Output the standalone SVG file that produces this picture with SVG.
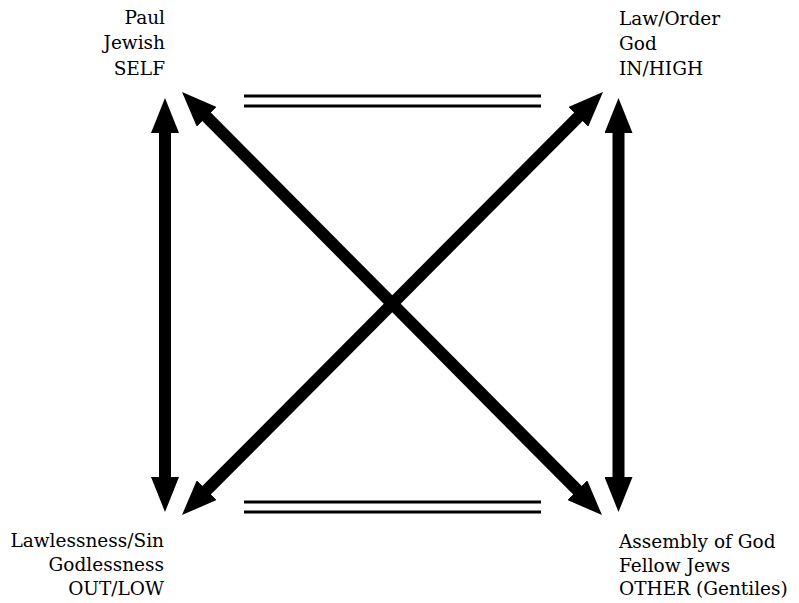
<svg xmlns="http://www.w3.org/2000/svg" width="799" height="603" viewBox="0 0 799 603">
<style>
.lbl{font-family:"DejaVu Serif","Liberation Serif",serif;font-size:18.5px;fill:#000}
.l{text-anchor:end}
.arr{stroke:#000;stroke-width:12;fill:none}
.eq{stroke:#000;stroke-width:3;fill:none}
</style>
<defs>
<marker id="ah" markerUnits="userSpaceOnUse" viewBox="0 0 36 28" markerWidth="36" markerHeight="28" refX="2" refY="14" orient="auto-start-reverse">
<path d="M0,0 L35,14 L0,28 Z" fill="#000"/>
</marker>
</defs>
<rect width="799" height="603" fill="#fff"/>
<g id="connectors">
<line class="arr" x1="165" y1="131" x2="165" y2="479" marker-start="url(#ah)" marker-end="url(#ah)"/>
<line class="arr" x1="618.5" y1="131" x2="618.5" y2="479" marker-start="url(#ah)" marker-end="url(#ah)"/>
<line class="arr" x1="205.3" y1="115.4" x2="578.7" y2="491.6" marker-start="url(#ah)" marker-end="url(#ah)"/>
<line class="arr" x1="579.7" y1="115.4" x2="205.3" y2="491.6" marker-start="url(#ah)" marker-end="url(#ah)"/>
<line class="eq" x1="244" y1="96" x2="541" y2="96"/>
<line class="eq" x1="244" y1="106" x2="541" y2="106"/>
<line class="eq" x1="244" y1="502" x2="541" y2="502"/>
<line class="eq" x1="244" y1="512" x2="541" y2="512"/>
</g>
<g id="node-self">
<text class="lbl l" x="165" y="24">Paul</text>
<text class="lbl l" x="165" y="49">Jewish</text>
<text class="lbl l" x="165" y="75">SELF</text>
</g>
<g id="node-law">
<text class="lbl" x="619" y="25">Law/Order</text>
<text class="lbl" x="619" y="50">God</text>
<text class="lbl" x="619" y="75">IN/HIGH</text>
</g>
<g id="node-lawless">
<text class="lbl l" x="164" y="547">Lawlessness/Sin</text>
<text class="lbl l" x="164" y="571">Godlessness</text>
<text class="lbl l" x="164" y="595">OUT/LOW</text>
</g>
<g id="node-other">
<text class="lbl" x="619" y="548">Assembly of God</text>
<text class="lbl" x="619" y="572">Fellow Jews</text>
<text class="lbl" x="619" y="595">OTHER (Gentiles)</text>
</g>
</svg>
